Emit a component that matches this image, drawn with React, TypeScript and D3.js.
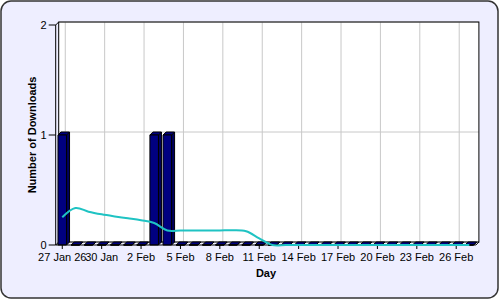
import React from "react";
import * as d3 from "d3";

const days: string[] = [
  "27 Jan", "28 Jan", "29 Jan", "30 Jan", "31 Jan",
  "1 Feb", "2 Feb", "3 Feb", "4 Feb", "5 Feb", "6 Feb", "7 Feb", "8 Feb", "9 Feb", "10 Feb",
  "11 Feb", "12 Feb", "13 Feb", "14 Feb", "15 Feb", "16 Feb", "17 Feb", "18 Feb", "19 Feb",
  "20 Feb", "21 Feb", "22 Feb", "23 Feb", "24 Feb", "25 Feb", "26 Feb", "27 Feb",
];
const downloads: number[] = [
  1, 0, 0, 0, 0, 0, 0, 1, 1, 0, 0, 0, 0, 0, 0, 0,
  0, 0, 0, 0, 0, 0, 0, 0, 0, 0, 0, 0, 0, 0, 0, 0,
];
const trend: number[] = [
  0.252, 0.336, 0.303, 0.279, 0.26, 0.243, 0.225, 0.2, 0.132, 0.132, 0.132, 0.132,
  0.132, 0.134, 0.125, 0.06, 0, 0, 0, 0, 0, 0, 0, 0,
  0, 0, 0, 0, 0, 0, 0, 0,
];
const tickDays: string[] = [
  "27 Jan", "30 Jan", "2 Feb", "5 Feb", "8 Feb", "11 Feb", "14 Feb", "17 Feb", "20 Feb", "23 Feb", "26 Feb",
];
const tickLabels: string[] = [
  "27 Jan 26", "30 Jan", "2 Feb", "5 Feb", "8 Feb", "11 Feb", "14 Feb", "17 Feb", "20 Feb", "23 Feb", "26 Feb",
];
const yTicks: number[] = [0, 1, 2];

const W = 500;
const H = 300;
const X0 = 55.7;
const X1 = 475.9;
const Y0 = 245;
const Y1 = 25;
const DX = 3;
const DY = 3;
const FONT = "'Liberation Sans', Arial, sans-serif";

export default function App() {
  const x = d3.scalePoint<string>().domain(days).range([X0, X1]).padding(0.5);
  const y = d3.scaleLinear().domain([0, 2]).range([Y0, Y1]);
  const step = x.step();
  const bw = step * 0.65;

  const line = d3
    .line<number>()
    .x((_, i) => x(days[i]) as number)
    .y((d) => y(d))
    .curve(d3.curveCatmullRom.alpha(0.5));

  return (
    <svg
      width={W}
      height={H}
      style={{ position: "absolute", left: 0, top: 0, display: "block" }}
      fontFamily={FONT}
    >
      <rect x={1} y={1} width={W - 3} height={H - 3} rx={10} ry={10} fill="#eeeeff" stroke="#333" strokeWidth={1.5} />
      {/* back wall */}
      <rect x={X0 + DX} y={Y1 - DY} width={X1 - X0} height={Y0 - Y1} fill="#ffffff" />
      {/* vertical grid lines */}
      {tickDays.map((d) => (
        <line key={"vg" + d} x1={(x(d) as number) + DX} x2={(x(d) as number) + DX} y1={Y1 - DY} y2={Y0 - DY} stroke="#c8c8c8" strokeWidth={1} />
      ))}
      {/* horizontal grid lines */}
      {yTicks.map((t) => (
        <line key={"hg" + t} x1={X0 + DX} x2={X1 + DX} y1={y(t) - DY} y2={y(t) - DY} stroke="#c8c8c8" strokeWidth={1} />
      ))}
      <rect x={X0 + DX} y={Y1 - DY} width={X1 - X0} height={Y0 - Y1} fill="none" stroke="#000" strokeWidth={1} />
      {/* floor / left 3D edges */}
      <line x1={X0} y1={Y1} x2={X0 + DX} y2={Y1 - DY} stroke="#000" />
      <line x1={X1} y1={Y0} x2={X1 + DX} y2={Y0 - DY} stroke="#000" />
      <line x1={X0} y1={Y0} x2={X0 + DX} y2={Y0 - DY} stroke="#000" />
      {/* bars */}
      {days.map((d, i) => {
        const cx = x(d) as number;
        const l = cx - bw / 2;
        const r = cx + bw / 2;
        const top = y(downloads[i]);
        const front = `M${l},${Y0}L${r},${Y0}L${r},${top}L${l},${top}Z`;
        const topFace = `M${l},${top}L${l + DX},${top - DY}L${r + DX},${top - DY}L${r},${top}Z`;
        const side = `M${r},${Y0}L${r + DX},${Y0 - DY}L${r + DX},${top - DY}L${r},${top}Z`;
        return (
          <g key={"b" + d} stroke="#000" strokeWidth={1} strokeLinejoin="round">
            <path d={side} fill="#00005e" />
            <path d={topFace} fill="#000080" />
            <path d={front} fill="#000080" />
          </g>
        );
      })}
      {/* axes */}
      <line x1={X0} y1={Y1} x2={X0} y2={Y0} stroke="#000" strokeWidth={1} />
      <line x1={X0} y1={Y0} x2={X1} y2={Y0} stroke="#000" strokeWidth={1} />
      {yTicks.map((t) => (
        <g key={"yt" + t}>
          <line x1={X0 - 7} x2={X0} y1={y(t)} y2={y(t)} stroke="#000" />
          <text x={X0 - 9} y={y(t)} dy="0.36em" textAnchor="end" fontSize={11} fill="#000">
            {t}
          </text>
        </g>
      ))}
      {tickDays.map((d, i) => (
        <g key={"xt" + d}>
          <line x1={x(d) as number} x2={x(d) as number} y1={Y0} y2={Y0 + 4} stroke="#000" />
          <text x={x(d) as number} y={Y0 + 16} textAnchor="middle" fontSize={11} fill="#000">
            {tickLabels[i]}
          </text>
        </g>
      ))}
      {/* trend line */}
      <path d={line(trend) || ""} fill="none" stroke="#1fc3c3" strokeWidth={2} />
      {/* titles */}
      <text x={266} y={277} textAnchor="middle" fontSize={11} fontWeight="bold" fill="#000">
        Day
      </text>
      <text
        transform={`translate(36,${(Y0 + Y1) / 2}) rotate(-90)`}
        textAnchor="middle"
        fontSize={11}
        fontWeight="bold"
        fill="#000"
      >
        Number of Downloads
      </text>
    </svg>
  );
}
